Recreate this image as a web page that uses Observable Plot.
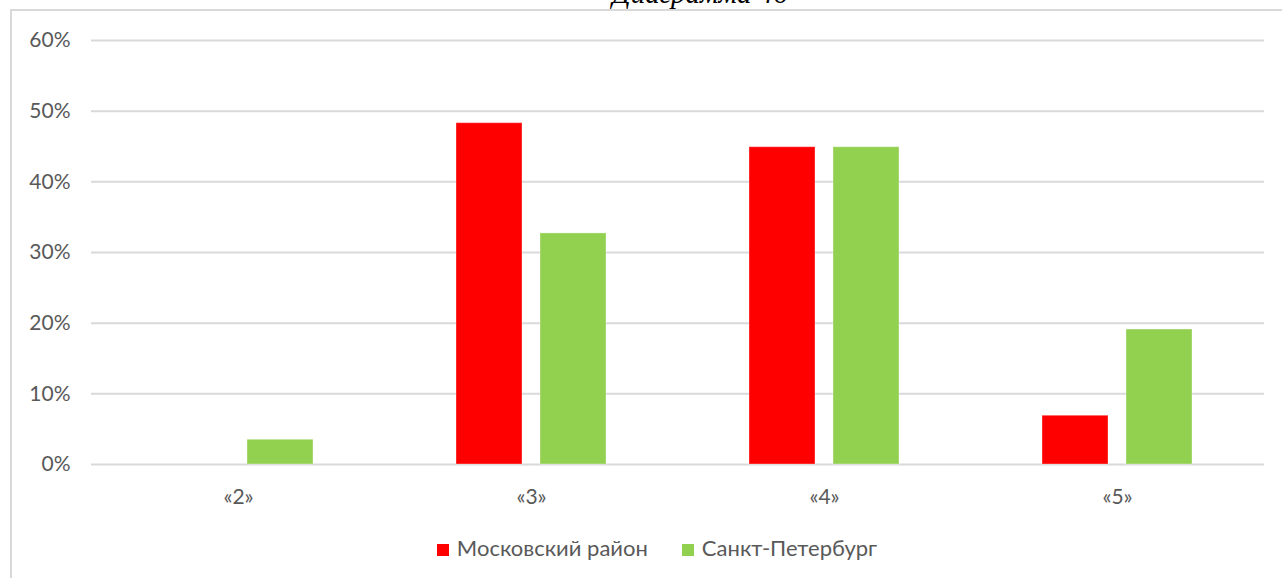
<!DOCTYPE html>
<html>
<head>
<meta charset="utf-8">
<script src="https://cdn.jsdelivr.net/npm/d3@7"></script>
<script src="https://cdn.jsdelivr.net/npm/@observablehq/plot@0.6"></script>
<style>
  html, body { margin: 0; padding: 0; background: #fff; overflow: hidden; }
  #wrap { position: relative; width: 1282px; height: 578px; overflow: hidden; }
  #title { position: absolute; left: 0; width: 1400px; top: -21px; text-align: center;
           font-family: "Liberation Serif", serif; font-style: italic; font-size: 29px; line-height: 29px; color: #000; }
  #frame { position: absolute; left: 10px; top: 9px; width: 1300px; height: 600px;
           border-left: 2px solid #d9d9d9; border-top: 2px solid #d9d9d9; box-sizing: border-box; }
  #chart { position: absolute; left: 0; top: 0; }
  #legend { position: absolute; left: 0; width: 1314px; top: 534px; text-align: center; line-height: 28px;
            font-family: Lato, sans-serif; font-size: 22px; color: #595959; }
  #legend span.item { margin: 0 17px; white-space: nowrap; }
  #legend span.sw { display: inline-block; width: 12px; height: 12px; margin-right: 8px; vertical-align: 0px; }
</style>
</head>
<body>
<div id="wrap">
  <div id="title">Диаграмма 46</div>
  <div id="frame"></div>
  <div id="chart"></div>
  <div id="legend"></div>
</div>
<script>
const categories = ["«2»", "«3»", "«4»", "«5»"];
const seriesNames = ["Московский район", "Санкт-Петербург"];
const seriesColors = ["#ff0000", "#92d050"];
const moskovskiy = [null, 0.483, 0.449, 0.069];
const spb = [0.035, 0.327, 0.449, 0.191];
const yTicks = [0, 0.1, 0.2, 0.3, 0.4, 0.5, 0.6];

const toRows = (vals, name) => categories
  .map((c, i) => ({cat: c, series: name, value: vals[i]}))
  .filter(d => d.value != null);
const rowsM = toRows(moskovskiy, seriesNames[0]);
const rowsS = toRows(spb, seriesNames[1]);

// group of two bars inside each category band (band width 150px): bar 66px, gap 18px
const barShift = 84;

const font = "Lato, sans-serif";
const chart = Plot.plot({
  width: 1282,
  height: 520,
  marginLeft: 91,
  marginRight: 18,
  marginTop: 40,
  marginBottom: 56,
  style: {fontFamily: font, fontSize: "21px", color: "#595959", background: "transparent"},
  x: {domain: categories, paddingInner: 0.4885, paddingOuter: 0.2443, label: null},
  y: {domain: [0, 0.6], label: null},
  color: {domain: seriesNames, range: seriesColors},
  marks: [
    Plot.ruleY(yTicks, {stroke: "#d9d9d9", strokeWidth: 2}),
    Plot.barY(rowsM, {x: "cat", y: "value", fill: "series", insetRight: barShift, stroke: "#fff", strokeOpacity: 0.35, strokeWidth: 1}),
    Plot.barY(rowsS, {x: "cat", y: "value", fill: "series", insetLeft: barShift, stroke: "#fff", strokeOpacity: 0.35, strokeWidth: 1}),
    Plot.axisY(yTicks, {tickSize: 0, tickPadding: 21, tickFormat: d => Math.round(d * 100) + "%", fill: "#595959", fontSize: 21, label: null}),
    Plot.axisX({anchor: "bottom", tickSize: 0, tickPadding: 25, fill: "#595959", fontSize: 21, label: null})
  ]
});
document.getElementById("chart").appendChild(chart);

const legend = document.getElementById("legend");
seriesNames.forEach((s, i) => {
  const item = document.createElement("span");
  item.className = "item";
  const sw = document.createElement("span");
  sw.className = "sw";
  sw.style.background = seriesColors[i];
  item.appendChild(sw);
  item.appendChild(document.createTextNode(s));
  legend.appendChild(item);
});
</script>
</body>
</html>
